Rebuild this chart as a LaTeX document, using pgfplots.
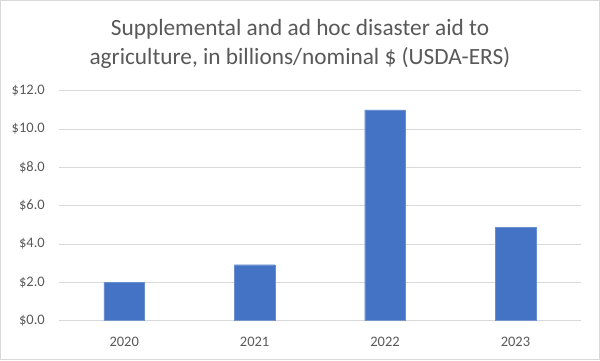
\documentclass[border=0pt]{standalone}
\usepackage{pgfplots}
\pgfplotsset{compat=1.18}
\usepackage{fontspec}
\setmainfont{Carlito}
\definecolor{barblue}{HTML}{4472C4}
\definecolor{gridgray}{HTML}{D9D9D9}
\definecolor{txtgray}{HTML}{595959}
\begin{document}
\begin{tikzpicture}[x=1pt,y=1pt]
\useasboundingbox (0,0) rectangle (600,360);
\fill[white] (0,0) rectangle (600,360);
\draw[gridgray, line width=1pt] (0.5,0.5) rectangle (599.5,359.5);
\node[anchor=base, text=txtgray, font=\fontsize{23.3}{28}\selectfont, inner sep=0pt] at (300,324.3) {Supplemental and ad hoc disaster aid to};
\node[anchor=base, text=txtgray, font=\fontsize{23.3}{28}\selectfont, inner sep=0pt] at (300,295.7) {agriculture, in billions/nominal \$ (USDA-ERS)};
\begin{axis}[
  at={(59pt,39.3pt)}, anchor=south west,
  scale only axis, width=521.7pt, height=230pt,
  xmin=-0.5, xmax=3.5, ymin=0, ymax=12,
  ybar, bar width=40.7pt,
  axis line style={draw=none},
  ymajorgrids, grid style={gridgray, line width=1pt},
  major tick style={draw=none},
  xtick={0,1,2,3}, xticklabels={2020,2021,2022,2023},
  ytick={0,2,4,6,8,10,12},
  yticklabels={\$0.0,\$2.0,\$4.0,\$6.0,\$8.0,\$10.0,\$12.0},
  tick label style={font=\fontsize{14.5}{17}\selectfont, text=txtgray},
  yticklabel style={inner sep=0pt, xshift=-14pt, anchor=east},
  xticklabel style={inner sep=0pt, anchor=north, yshift=-12pt},
  /pgf/number format/assume math mode=true,
]
\addplot[fill=barblue, draw=barblue!80!white] coordinates {(0,2.0) (1,2.92) (2,11.0) (3,4.87)};
\end{axis}
\end{tikzpicture}
\end{document}
